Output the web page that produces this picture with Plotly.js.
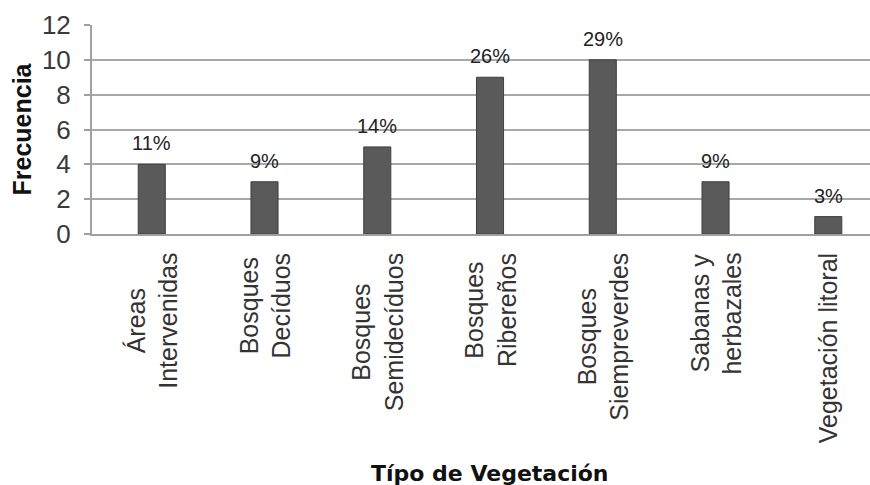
<!DOCTYPE html>
<html>
<head>
<meta charset="utf-8">
<script src="https://cdn.plot.ly/plotly-3.0.1.min.js"></script>
<style>html,body{margin:0;padding:0;background:#fff;}#chart{width:870px;height:485px;}</style>
</head>
<body>
<div id="chart"></div>
<script>
var categories = ["Áreas<br>Intervenidas", "Bosques<br>Decíduos", "Bosques<br>Semidecíduos", "Bosques<br>Ribereños", "Bosques<br>Siempreverdes", "Sabanas y<br>herbazales", "Vegetación litoral"];
var frecuencia = [4, 3, 5, 9, 10, 3, 1];
var porcentajes = ["11%", "9%", "14%", "26%", "29%", "9%", "3%"];
var yTicks = [0, 2, 4, 6, 8, 10, 12];

var trace = {
  type: "bar",
  x: categories,
  y: frecuencia,
  width: 0.24,
  marker: {color: "#5a5a5a", line: {color: "#3f3f3f", width: 1}},
  hoverinfo: "none"
};

var plotW = 870 - 92, plotH = 485 - 25 - 251;

// percentage labels above bars
var annotations = categories.map(function (c, i) {
  return {
    x: c, y: frecuencia[i], xref: "x", yref: "y",
    text: porcentajes[i], showarrow: false,
    yanchor: "bottom", yshift: 8,
    font: {family: "Liberation Sans, Arial, sans-serif", size: 20, color: "#222"}
  };
});
// category labels (rotated, centred lines like the original)
categories.forEach(function (c) {
  annotations.push({
    x: c, y: 0, xref: "x", yref: "y",
    text: c, textangle: -90, align: "center", showarrow: false,
    xanchor: "center", yanchor: "top", yshift: -17,
    font: {family: "Liberation Sans, Arial, sans-serif", size: 25, color: "#333"}
  });
});
annotations.push({
  xref: "paper", yref: "paper",
  x: (490 - 92) / plotW, y: -(473 - 234) / plotH,
  xanchor: "center", yanchor: "middle",
  text: "<b>Típo de Vegetación</b>", showarrow: false,
  font: {family: "DejaVu Sans, Verdana, sans-serif", size: 22, color: "#111"}
});
annotations.push({
  xref: "paper", yref: "paper",
  x: (21 - 92) / plotW, y: 0.5,
  xanchor: "center", yanchor: "middle",
  text: "<b>Frecuencia</b>", textangle: -90, showarrow: false,
  font: {family: "Liberation Sans, Arial, sans-serif", size: 25, color: "#111"}
});

var layout = {
  width: 870, height: 485,
  margin: {l: 92, r: 0, t: 25, b: 251},
  paper_bgcolor: "#fff", plot_bgcolor: "#fff",
  showlegend: false,
  xaxis: {
    type: "category",
    range: [-0.53, 6.37],
    showline: true, linecolor: "#a0a0a0", linewidth: 2,
    ticks: "", showticklabels: false,
    showgrid: false
  },
  yaxis: {
    range: [0, 12],
    tickvals: yTicks,
    ticktext: yTicks.map(String),
    showline: true, linecolor: "#a0a0a0", linewidth: 2,
    ticks: "outside", ticklen: 6, tickcolor: "#a0a0a0", tickwidth: 2,
    ticklabelstandoff: 8,
    showgrid: true, gridcolor: "#a8a8a8", gridwidth: 2,
    zeroline: false,
    tickfont: {family: "Liberation Sans, Arial, sans-serif", size: 26, color: "#3a3a3a"}
  },
  annotations: annotations
};

Plotly.newPlot("chart", [trace], layout, {displayModeBar: false, staticPlot: true});
</script>
</body>
</html>
